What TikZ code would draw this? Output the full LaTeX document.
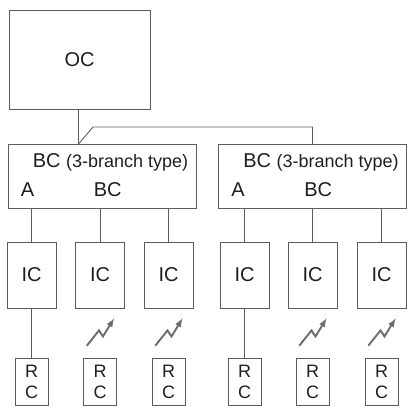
\documentclass[tikz,border=0pt]{standalone}
\usepackage{fontspec}
\setmainfont{Liberation Sans}
\begin{document}
\begin{tikzpicture}[x=1pt, y=1pt, >=latex, line cap=round]
  \definecolor{lgray}{HTML}{5C5C5C}
  \definecolor{dtext}{HTML}{1E1E1E}
  \tikzset{
    unit/.style={draw=lgray, line width=0.9pt, text=dtext, inner sep=0pt, font=\fontsize{20}{24}\selectfont},
    tag/.style={anchor=base west, inner sep=0pt, text=dtext, font=\fontsize{20}{24}\selectfont},
    wire/.style={lgray, line width=0.9pt},
    radio/.style={->, lgray!90, line width=1.9pt, line join=miter}
  }
  \useasboundingbox (0,0) rectangle (409,407);
  % outdoor unit
  \node[unit, minimum width=141pt, minimum height=99pt] (oc) at (79.5,347.5) {OC};
  % branch controllers
  \node[unit, minimum width=188pt, minimum height=64pt] (bc1) at (102,231) {};
  \node[unit, minimum width=188pt, minimum height=64pt] (bc2) at (312.5,231) {};
  \foreach \b in {bc1,bc2} {
    \node[tag] (\b-title) at ([xshift=25pt, yshift=8pt]\b.west) {BC {\fontsize{18}{20}\selectfont(3-branch type)}};
    \node[tag] (\b-a) at ([xshift=13pt, yshift=-21pt]\b.west) {A};
    \node[tag] (\b-bc) at ([xshift=86pt, yshift=-21pt]\b.west) {BC};
  }
  % link outdoor unit -> branch controllers
  \coordinate (j) at (78.5,263);
  \draw[wire] (oc.south -| j) -- (j);
  \draw[wire] (j) -- ++(14.5,17) -| (bc2.north);
  % indoor units and remote controllers
  \foreach \x [count=\i] in {31.5,100,168.5,244.5,312.5,381.5} {
    \node[unit, minimum width=49pt, minimum height=66pt] (ic\i) at (\x,132) {IC};
    \node[unit, minimum width=33pt, minimum height=47pt, align=center, font=\fontsize{18}{21}\selectfont] (rc\i) at (\x,25.5) {R\\C};
  }
  \foreach \i/\b in {1/bc1,2/bc1,3/bc1,4/bc2,5/bc2,6/bc2}
    \draw[wire] (ic\i.north) -- (ic\i.north |- \b.south);
  \foreach \i in {1,4} \draw[wire] (ic\i.south) -- (rc\i.north);
  % wireless remote links
  \foreach \i in {2,3,5,6}
    \draw[radio] ([shift={(-13,-37)}]ic\i.south) -- ++(12,15) -- ++(4,-6) -- ++(11,18);
\end{tikzpicture}
\end{document}
